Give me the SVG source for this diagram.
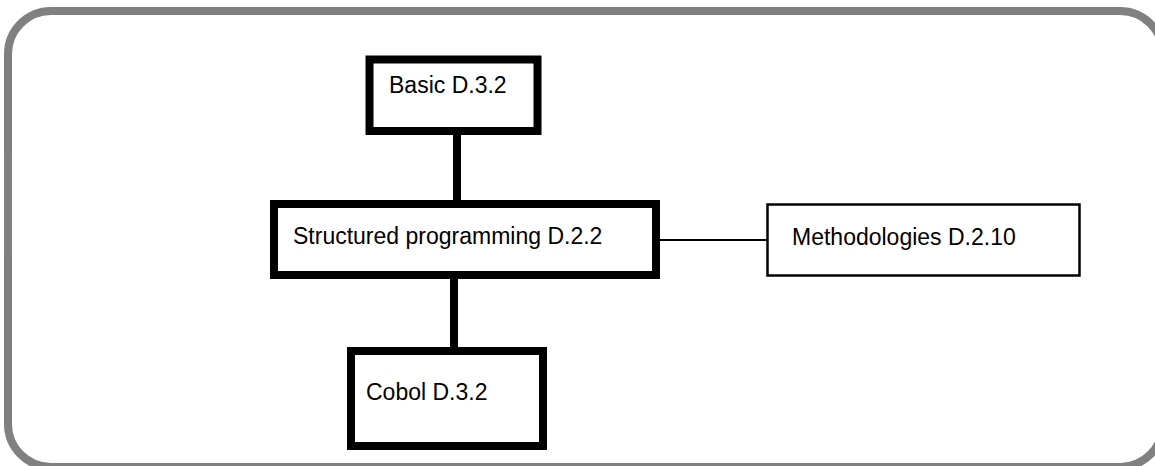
<svg xmlns="http://www.w3.org/2000/svg" width="1155" height="466" viewBox="0 0 1155 466">
<style>
.frame{fill:#ffffff;stroke:#808080;stroke-width:8}
.box{fill:#ffffff;stroke:#000000;stroke-width:8}
.thin{fill:#ffffff;stroke:#000000;stroke-width:2.5}
.lbl{font-family:"Liberation Sans",Arial,sans-serif;font-size:23px;fill:#000000}
.thick{stroke:#000000;stroke-width:8;fill:none}
.line{stroke:#000000;stroke-width:2;fill:none}
</style>
<rect width="1155" height="466" fill="#ffffff"/>
<rect class="frame" x="8" y="11" width="1155" height="456" rx="43" ry="43"/>
<g id="connectors">
<line class="thick" x1="457" y1="131" x2="457" y2="204"/>
<line class="thick" x1="454" y1="275" x2="454" y2="351"/>
<line class="line" x1="660" y1="240" x2="767" y2="240"/>
</g>
<g id="basic">
<rect class="box" x="369.5" y="59.5" width="168" height="71.5"/>
<text class="lbl" x="389" y="93">Basic D.3.2</text>
</g>
<g id="structured">
<rect class="box" x="274" y="204" width="382" height="71"/>
<text class="lbl" x="293" y="244">Structured programming D.2.2</text>
</g>
<g id="methodologies">
<rect class="thin" x="767.5" y="204.5" width="312" height="71"/>
<text class="lbl" x="792" y="245">Methodologies D.2.10</text>
</g>
<g id="cobol">
<rect class="box" x="351" y="351" width="192" height="95"/>
<text class="lbl" x="366" y="400">Cobol D.3.2</text>
</g>
</svg>
